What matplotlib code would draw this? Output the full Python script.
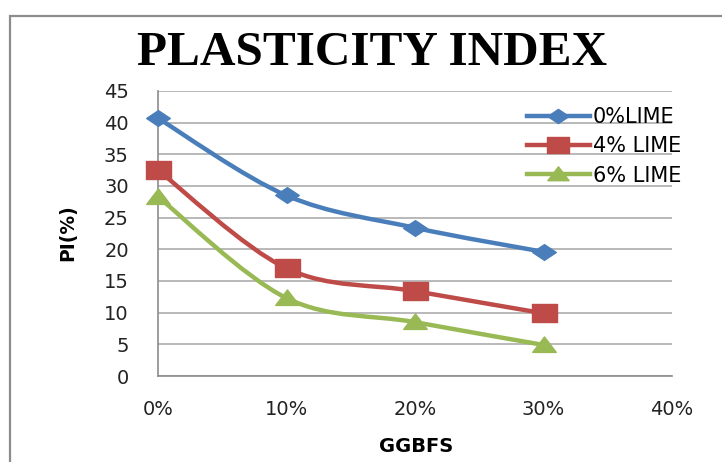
import numpy as np
import matplotlib
matplotlib.use('Agg')
import matplotlib.pyplot as plt
from matplotlib.path import Path
from matplotlib.patches import PathPatch, Rectangle
from matplotlib.lines import Line2D

# datos
ggbfs = [0.0, 0.1, 0.2, 0.3]
x_ticks = [0.0, 0.1, 0.2, 0.3, 0.4]
x_labels = ['0%', '10%', '20%', '30%', '40%']
y_ticks = [0, 5, 10, 15, 20, 25, 30, 35, 40, 45]
lime0 = [40.7, 28.5, 23.4, 19.6]
lime4 = [32.5, 17.0, 13.4, 9.9]
lime6 = [28.3, 12.3, 8.5, 4.9]
labels = ['0%LIME', '4% LIME', '6% LIME']

colors = ['#4A7EBB', '#BE4B48', '#98B954']
# marcadores algo anchos, como en la imagen
diamond = Path([(-1.5, 0), (0, 1), (1.5, 0), (0, -1), (-1.5, 0)],
               [1, 2, 2, 2, 79])
square = Path([(-1.45, -1), (1.45, -1), (1.45, 1), (-1.45, 1), (-1.45, -1)],
              [1, 2, 2, 2, 79])
triangle = Path([(-1.45, -0.85), (1.45, -0.85), (0, 1.05), (-1.45, -0.85)],
                [1, 2, 2, 79])
markers = [diamond, square, triangle]
msizes = [17, 18, 17]


def smooth_path(x, y):
    # curva suave tipo excel (bezier entre los puntos)
    p = np.column_stack([x, y])
    n = len(p)
    verts = [p[0]]
    codes = [Path.MOVETO]
    for i in range(n - 1):
        p0 = p[i - 1] if i > 0 else p[i]
        p3 = p[i + 2] if i + 2 < n else p[i + 1]
        c1 = p[i] + (p[i + 1] - p0) / 6
        c2 = p[i + 1] - (p3 - p[i]) / 6
        verts += [c1, c2, p[i + 1]]
        codes += [Path.CURVE4] * 3
    return Path(verts, codes)


fig = plt.figure(figsize=(7.22, 4.62), dpi=100)
fig.patches.append(Rectangle((10 / 722, -0.1), 2.0, (1 - 16 / 462) + 0.1,
                             transform=fig.transFigure, fill=False,
                             edgecolor='#8c8c8c', linewidth=1.6))

ax = fig.add_axes([158 / 722, 1 - 376 / 462, (672 - 158) / 722, (376 - 91) / 462])

for serie, c, m, ms, lab in zip([lime0, lime4, lime6], colors, markers, msizes, labels):
    ax.add_patch(PathPatch(smooth_path(ggbfs, serie), fill=False, edgecolor=c,
                           linewidth=3.2, zorder=3, capstyle='round'))
    ax.plot(ggbfs, serie, linestyle='none', marker=m, markersize=ms,
            color=c, zorder=4, clip_on=False)

ax.set_xlim(0, 0.4)
ax.set_ylim(0, 45)
ax.set_xticks(x_ticks)
ax.set_xticklabels(x_labels)
ax.set_yticks(y_ticks)
ax.yaxis.grid(True, color='#a6a6a6', linewidth=1.1)
ax.set_axisbelow(True)
for s in ['top', 'right']:
    ax.spines[s].set_visible(False)
for s in ['left', 'bottom']:
    ax.spines[s].set_color('#8c8c8c')
    ax.spines[s].set_linewidth(1.2)
ax.tick_params(axis='y', length=0, pad=21, labelsize=14, labelcolor='#222222')
ax.tick_params(axis='x', length=0, pad=17, labelsize=14, labelcolor='#222222')

fig.text(68 / 722, 1 - 233 / 462, 'PI(%)', rotation=90, ha='center', va='center',
         fontsize=13.5, fontweight='bold')
fig.text(416 / 722, 1 - 447 / 462, 'GGBFS', ha='center', va='center',
         fontsize=14, fontweight='bold')
fig.text(372 / 722, 1 - 53 / 462, 'PLASTICITY INDEX', ha='center', va='center',
         fontsize=35.5, fontweight='bold', family='Liberation Serif')

handles = [Line2D([], [], color=c, linewidth=3.2, marker=m, markersize=ms * 0.9)
           for c, m, ms in zip(colors, markers, msizes)]
leg = fig.legend(handles, labels, loc='upper left',
                 bbox_to_anchor=(527 / 722, 1 - 107 / 462), frameon=False,
                 fontsize=15, handlelength=3.0, handletextpad=0.15,
                 labelspacing=0.45, borderaxespad=0, borderpad=0)

fig.savefig('out.png', dpi=100)
